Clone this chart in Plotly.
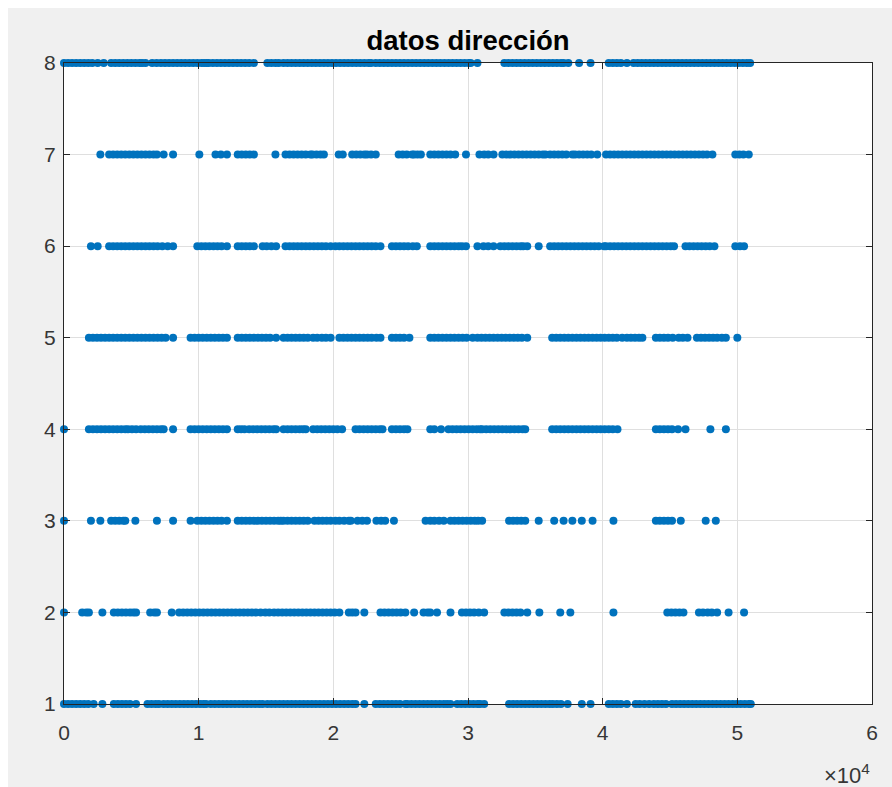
import plotly.graph_objects as go

# Sample index of each observation (in units of 10^4 samples),
# grouped by the direction code recorded at that sample (1..8).
dir8_idx = [0, .03, .06, .09, .12, .15, .18, .21, .25, .295,
            .35, .38, .41, .44, .47, .50, .53, .56, .58, .605, .655, .688,
            .72, .75, .78, .81, .84, .87, .90, .93, .96, .99, 1.02, 1.04, 1.06,
            1.075, 1.105, 1.135, 1.165, 1.195, 1.225, 1.255, 1.285, 1.315, 1.345,
            1.375, 1.41, 1.51, 1.54, 1.57, 1.595,
            1.63, 1.66, 1.69, 1.72, 1.75, 1.78, 1.81, 1.84, 1.87, 1.90, 1.93,
            1.96, 1.99, 2.02, 2.05, 2.08, 2.11, 2.14, 2.17, 2.20, 2.23, 2.26, 2.28,
            2.315, 2.345, 2.375, 2.405, 2.435, 2.465, 2.495, 2.525, 2.555, 2.585,
            2.615, 2.645, 2.675, 2.705, 2.735, 2.765, 2.795, 2.825, 2.855, 2.885,
            2.915, 2.945, 2.975, 3.005, 3.02, 3.07,
            3.27, 3.30, 3.33, 3.36, 3.39, 3.42, 3.45, 3.48, 3.51, 3.54, 3.57,
            3.60, 3.63, 3.66, 3.69, 3.71, 3.745, 3.825, 3.91,
            4.045, 4.075, 4.105, 4.135, 4.18,
            4.23, 4.26, 4.29, 4.32, 4.35, 4.38, 4.41, 4.44, 4.47, 4.50, 4.53,
            4.56, 4.59, 4.62, 4.65, 4.68, 4.71, 4.74, 4.77, 4.80, 4.83, 4.86,
            4.89, 4.92, 4.95, 4.98, 5.01, 5.04, 5.07, 5.095]

dir7_idx = [.27, .335, .365, .395, .425, .455, .485, .515, .545, .575, .605,
            .635, .665, .69, .74, .81, 1.005, 1.125, 1.165, 1.21,
            1.29, 1.32, 1.35, 1.38, 1.41, 1.57,
            1.645, 1.675, 1.705, 1.735, 1.765, 1.795, 1.83, 1.845, 1.875, 1.905,
            1.93, 2.04, 2.07, 2.14, 2.17, 2.20, 2.23, 2.25, 2.28, 2.315,
            2.485, 2.515, 2.545, 2.585, 2.60, 2.625, 2.65,
            2.72, 2.75, 2.78, 2.81, 2.84, 2.87, 2.905, 2.985, 3.085,
            3.12, 3.15, 3.19, 3.255, 3.285, 3.315, 3.345, 3.375, 3.405, 3.435,
            3.465, 3.495, 3.525, 3.555, 3.575, 3.61, 3.64, 3.67, 3.70, 3.73,
            3.775, 3.795, 3.825, 3.855, 3.885, 3.915, 3.96,
            4.025, 4.055, 4.085, 4.115, 4.145, 4.175, 4.205, 4.235, 4.265, 4.295,
            4.325, 4.355, 4.385, 4.415, 4.445, 4.475, 4.505, 4.535, 4.565,
            4.595, 4.625, 4.655, 4.685, 4.715, 4.745, 4.775, 4.815,
            4.985, 5.015, 5.045, 5.085]

dir6_idx = [.20, .25, .335, .365, .395, .425, .455, .485, .515, .545, .575,
            .605, .635, .665, .695, .73, .77, .81,
            .99, 1.02, 1.05, 1.08, 1.11, 1.14, 1.17, 1.21,
            1.29, 1.32, 1.35, 1.38, 1.41, 1.475, 1.505, 1.54, 1.575,
            1.645, 1.675, 1.705, 1.735, 1.765, 1.795, 1.825, 1.855, 1.885, 1.915,
            1.945, 1.98, 2.015, 2.045, 2.075, 2.105, 2.135, 2.165, 2.195, 2.225,
            2.255, 2.285, 2.315, 2.35, 2.435, 2.465, 2.495, 2.525, 2.555, 2.59,
            2.62, 2.72, 2.75, 2.78, 2.81, 2.84, 2.87, 2.90, 2.93, 2.955, 2.985,
            3.07, 3.115, 3.15, 3.19, 3.24, 3.27, 3.30, 3.33, 3.36, 3.39, 3.41,
            3.44, 3.525,
            3.61, 3.64, 3.67, 3.70, 3.73, 3.76, 3.79, 3.82, 3.85, 3.88, 3.91,
            3.94, 3.97, 4.01, 4.025, 4.055, 4.085, 4.115, 4.145, 4.175, 4.205,
            4.235, 4.265, 4.295, 4.325, 4.355, 4.385, 4.415, 4.445, 4.475, 4.505,
            4.53, 4.615, 4.645, 4.675, 4.705, 4.735, 4.765, 4.795, 4.83,
            4.985, 5.02, 5.05]

dir5_idx = [.185, .215, .245, .275, .305, .335, .365, .395, .425, .455, .485,
            .515, .545, .575, .605, .635, .665, .695, .725, .755, .81,
            .94, .97, 1.00, 1.03, 1.06, 1.09, 1.12, 1.15, 1.18, 1.21,
            1.29, 1.32, 1.35, 1.38, 1.41, 1.44, 1.47, 1.50, 1.53, 1.575,
            1.63, 1.66, 1.69, 1.72, 1.75, 1.78, 1.81, 1.85, 1.88, 1.915, 1.945,
            1.98, 2.045, 2.075, 2.105, 2.135, 2.165, 2.195, 2.225, 2.255, 2.285,
            2.32, 2.35, 2.435, 2.465, 2.495, 2.525, 2.565,
            2.72, 2.75, 2.78, 2.81, 2.84, 2.87, 2.90, 2.93, 2.96, 2.99, 3.035,
            3.07, 3.10, 3.13, 3.16, 3.19, 3.22, 3.25, 3.28, 3.31, 3.34, 3.37,
            3.40, 3.44,
            3.625, 3.655, 3.685, 3.715, 3.745, 3.775, 3.805, 3.835, 3.865, 3.895,
            3.925, 3.955, 3.985, 4.015, 4.045, 4.075, 4.105, 4.145,
            4.18, 4.21, 4.24, 4.27, 4.295, 4.395, 4.425, 4.455, 4.485, 4.52,
            4.565, 4.595, 4.63, 4.70, 4.73, 4.76, 4.79, 4.82, 4.85, 4.885, 4.915,
            5.00]

dir4_idx = [0, .185, .215, .245, .275, .305, .335, .365, .395, .425, .455, .475,
            .505, .535, .57, .60, .63, .66, .69, .72, .74, .81,
            .94, .97, 1.00, 1.03, 1.06, 1.09, 1.12, 1.15, 1.18, 1.21,
            1.29, 1.315, 1.34, 1.375, 1.405, 1.435, 1.465, 1.495, 1.525, 1.555,
            1.575, 1.63, 1.66, 1.69, 1.72, 1.75, 1.775, 1.795,
            1.85, 1.88, 1.91, 1.94, 1.97, 2.00, 2.03, 2.065,
            2.165, 2.195, 2.225, 2.255, 2.285, 2.315, 2.345, 2.365,
            2.435, 2.465, 2.495, 2.525, 2.55, 2.72, 2.75, 2.80,
            2.855, 2.885, 2.915, 2.945, 2.975, 3.005, 3.035, 3.065, 3.09,
            3.105, 3.135, 3.165, 3.195, 3.225, 3.255, 3.285, 3.315, 3.345, 3.375,
            3.405, 3.425,
            3.625, 3.655, 3.685, 3.715, 3.745, 3.775, 3.805, 3.835, 3.865, 3.895,
            3.925, 3.955, 3.985, 4.015, 4.045, 4.075, 4.11,
            4.395, 4.425, 4.455, 4.485, 4.515, 4.56, 4.615, 4.80, 4.915]

dir3_idx = [0, .20, .27, .35, .38, .41, .44, .455, .53, .69, .81,
            .94, .99, 1.02, 1.05, 1.08, 1.11, 1.14, 1.17, 1.21,
            1.29, 1.32, 1.35, 1.38, 1.41, 1.44, 1.47, 1.50, 1.53, 1.56, 1.59,
            1.61, 1.63, 1.66, 1.69, 1.72, 1.75, 1.78, 1.81,
            1.86, 1.89, 1.92, 1.95, 1.98, 2.015, 2.045, 2.08, 2.115, 2.13,
            2.18, 2.215, 2.25, 2.32, 2.355, 2.385, 2.45,
            2.685, 2.72, 2.75, 2.785, 2.82,
            2.87, 2.90, 2.93, 2.96, 2.99, 3.02, 3.05, 3.075, 3.105,
            3.305, 3.335, 3.365, 3.395, 3.425,
            3.525, 3.64, 3.71, 3.775, 3.845, 3.925, 4.08,
            4.395, 4.425, 4.455, 4.485, 4.515, 4.58, 4.765, 4.84]

dir2_idx = [0, .135, .165, .185, .285, .37, .40, .43, .46, .49, .515, .535,
            .64, .67, .69, .80,
            .855, .885, .915, .945, .975, 1.005, 1.035, 1.065, 1.095, 1.125,
            1.155, 1.185, 1.215, 1.245, 1.275, 1.305, 1.335, 1.365, 1.395, 1.425,
            1.46, 1.495, 1.525,
            1.56, 1.59, 1.62, 1.65, 1.68, 1.71, 1.74, 1.77, 1.80, 1.83, 1.86,
            1.89, 1.92, 1.95, 1.98, 2.01, 2.045, 2.115, 2.14, 2.165, 2.23,
            2.35, 2.38, 2.41, 2.44, 2.47, 2.50, 2.535, 2.60,
            2.67, 2.70, 2.72, 2.77, 2.87,
            2.955, 2.985, 3.015, 3.045, 3.08, 3.12,
            3.27, 3.30, 3.33, 3.36, 3.39, 3.44, 3.53, 3.685, 3.76, 4.08,
            4.48, 4.51, 4.54, 4.57, 4.60, 4.715, 4.745, 4.78, 4.81, 4.85,
            4.935, 5.05]

dir1_idx = [0, .03, .06, .09, .12, .15, .18, .22, .285,
            .37, .40, .43, .46, .49, .535, .62, .65, .68, .705,
            .74, .77, .80, .83, .86, .89, .92, .95, .98, 1.01, 1.035, 1.055,
            1.09, 1.12, 1.15, 1.18, 1.21, 1.24, 1.27, 1.30, 1.33, 1.36, 1.39,
            1.42, 1.45, 1.475,
            1.51, 1.54, 1.57, 1.60, 1.63, 1.66, 1.69, 1.72, 1.75, 1.78, 1.81,
            1.84, 1.87, 1.90, 1.93, 1.96, 1.99, 2.02, 2.05, 2.08, 2.11, 2.14,
            2.165, 2.23,
            2.315, 2.345, 2.375, 2.405, 2.435, 2.465, 2.495, 2.535,
            2.55, 2.58, 2.61, 2.64, 2.67, 2.70, 2.73, 2.76, 2.79, 2.82, 2.845,
            2.87, 2.92, 2.95, 2.98, 3.01, 3.04, 3.07, 3.09, 3.12,
            3.305, 3.335, 3.365, 3.395, 3.425, 3.455, 3.485, 3.515, 3.545, 3.575,
            3.605, 3.63, 3.66, 3.69, 3.74, 3.845, 3.91,
            4.045, 4.075, 4.105, 4.135, 4.18, 4.245, 4.275, 4.31, 4.345,
            4.38, 4.41, 4.44, 4.47, 4.515,
            4.545, 4.575, 4.605, 4.635, 4.665, 4.695, 4.725, 4.755, 4.785, 4.815,
            4.845, 4.875, 4.905, 4.935, 4.965, 4.995, 5.025, 5.055, 5.085, 5.10]

directions = [1, 2, 3, 4, 5, 6, 7, 8]
groups = [dir1_idx, dir2_idx, dir3_idx, dir4_idx,
          dir5_idx, dir6_idx, dir7_idx, dir8_idx]

x_ticks = [0, 1, 2, 3, 4, 5, 6]
y_ticks = [1, 2, 3, 4, 5, 6, 7, 8]

xs, ys = [], []
for d, idx in zip(directions, groups):
    xs.extend(idx)
    ys.extend([d] * len(idx))

AXIS_COLOR = "#262626"
LABEL_COLOR = "#363636"
GRID_COLOR = "#dfdfdf"
FONT = "Liberation Sans, Arial, Helvetica, sans-serif"

fig = go.Figure(
    go.Scatter(
        x=xs, y=ys, mode="markers",
        marker=dict(color="#0072BD", size=8, line=dict(width=0)),
        cliponaxis=False, hoverinfo="x+y",
    )
)

axis_common = dict(
    showline=True, linecolor=AXIS_COLOR, linewidth=1, mirror="ticks",
    ticks="inside", ticklen=6, tickcolor=AXIS_COLOR, tickwidth=1,
    showgrid=True, gridcolor=GRID_COLOR, gridwidth=1, zeroline=False,
    tickfont=dict(family=FONT, size=21, color=LABEL_COLOR),
)

fig.update_xaxes(range=[0, 6], tickvals=x_ticks, ticklabelstandoff=10,
                 **axis_common)
fig.update_yaxes(range=[1, 8], tickvals=y_ticks, ticklabelstandoff=3,
                 **axis_common)

# plot area spans 64..872 px horizontally and 63..704 px vertically
px_x = lambda px: (px - 64) / 808
px_y = lambda py: (704 - py) / 641

fig.update_layout(
    width=892, height=787,
    margin=dict(l=64, r=20, t=63, b=83, pad=0),
    paper_bgcolor="#f0f0f0", plot_bgcolor="#ffffff",
    showlegend=False,
    title=dict(text="<b>datos dirección</b>", x=0.5247, xanchor="center",
               y=1 - 40 / 787, yanchor="middle",
               font=dict(family=FONT, size=27.5, color="#000000")),
    annotations=[dict(text="×10<sup>4</sup>", xref="paper", yref="paper",
                      x=1, xanchor="right", y=px_y(774), yanchor="middle",
                      showarrow=False,
                      font=dict(family=FONT, size=22, color=LABEL_COLOR))],
    shapes=[
        # white window frame on the left and top edges
        dict(type="rect", xref="paper", yref="paper", layer="above",
             x0=px_x(0), x1=px_x(8), y0=px_y(787), y1=px_y(0),
             fillcolor="#ffffff", line=dict(width=0)),
        dict(type="rect", xref="paper", yref="paper", layer="above",
             x0=px_x(0), x1=px_x(892), y0=px_y(8), y1=px_y(0),
             fillcolor="#ffffff", line=dict(width=0)),
    ],
)

fig.write_html("out.html")
